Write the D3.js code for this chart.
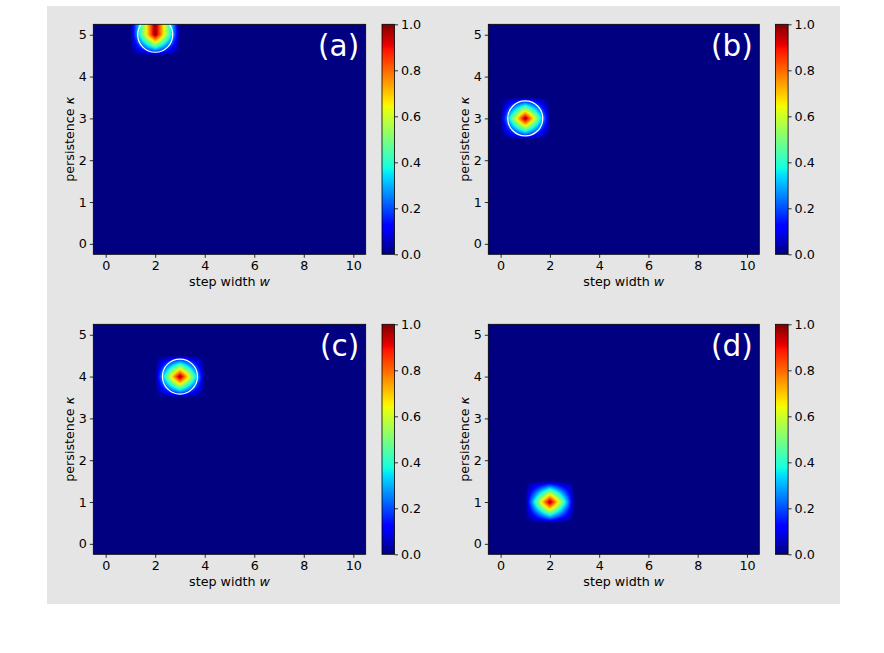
<!DOCTYPE html>
<html>
<head>
<meta charset="utf-8">
<script src="https://cdn.jsdelivr.net/npm/d3@7"></script>
<style>
  body { margin: 0; background: #fff; }
  svg { display: block; }
  text { font-family: "DejaVu Sans", sans-serif; }
</style>
</head>
<body>
<div id="my_dataviz"></div>
<script>
// grid of the heat maps
var stepWidth = [0, 1, 2, 3, 4, 5, 6, 7, 8, 9, 10];
var persistence = [0, 0.5, 1, 1.5, 2, 2.5, 3, 3.5, 4, 4.5, 5];

// every panel has one non-zero cell
var panelNames = ["(a)", "(b)", "(c)", "(d)"];
var peakStepWidth = [2, 1, 3, 2];
var peakPersistence = [5, 3, 4, 1];
var peakValue = [1.0, 1.0, 1.0, 1.0];

// white rings, panel (d) has none
var ringStepWidth = [2, 1, 3, null];
var ringPersistence = [5, 3, 4, null];

var xTickValues = [0, 2, 4, 6, 8, 10];
var yTickValues = [0, 1, 2, 3, 4, 5];
var colorTickValues = [0.0, 0.2, 0.4, 0.6, 0.8, 1.0];

// matplotlib "jet" knots
var jetRed = [[0, 0], [0.35, 0], [0.66, 1], [0.89, 1], [1, 0.5]];
var jetGreen = [[0, 0], [0.125, 0], [0.375, 1], [0.64, 1], [0.91, 0], [1, 0]];
var jetBlue = [[0, 0.5], [0.11, 1], [0.34, 1], [0.65, 0], [1, 0]];

function knotScale(k) {
    return d3.scaleLinear()
        .domain(k.map(function(d) { return d[0]; }))
        .range(k.map(function(d) { return d[1] * 255; }))
        .clamp(true);
}
var rS = knotScale(jetRed), gS = knotScale(jetGreen), bS = knotScale(jetBlue);
function jet(v) {
    return [Math.round(rS(v)), Math.round(gS(v)), Math.round(bS(v))];
}

// layout
var fontSize = 12.7;
var plotLeft = [93.3, 488.3],
    plotWidth = [272.4, 271],
    plotTop = [24.3, 324.3],
    plotHeight = 230,
    cbGap = 16.3,
    cbWidth = 12.5,
    tick = 3.5,
    ringRadius = 17.5;

var svg = d3.select("#my_dataviz")
    .append("svg")
    .attr("width", 884)
    .attr("height", 653);

svg.append("rect")
    .attr("x", 47).attr("y", 6)
    .attr("width", 793).attr("height", 598)
    .attr("fill", "#e5e5e5");

// colour bar gradient
var defs = svg.append("defs");
var grad = defs.append("linearGradient")
    .attr("id", "jetgrad")
    .attr("x1", 0).attr("y1", 1).attr("x2", 0).attr("y2", 0);
d3.range(0, 1.0001, 0.01).forEach(function(t) {
    var c = jet(t);
    grad.append("stop")
        .attr("offset", t)
        .attr("stop-color", "rgb(" + c.join(",") + ")");
});

function styleAxis(g) {
    g.select(".domain").remove();
    g.attr("font-family", null).attr("font-size", null);
    g.selectAll(".tick line").attr("stroke", "#000").attr("stroke-width", 0.8);
    g.selectAll(".tick text")
        .attr("fill", "#000")
        .style("font-size", fontSize + "px");
}

panelNames.forEach(function(name, p) {
    var col = p % 2, row = Math.floor(p / 2);
    var left = plotLeft[col], top = plotTop[row], width = plotWidth[col], height = plotHeight;

    var g = svg.append("g")
        .attr("transform", "translate(" + left + "," + top + ")");

    var x = d3.scaleLinear().domain([-0.5, 10.5]).range([0, width]);
    var y = d3.scaleLinear().domain([-0.25, 5.25]).range([height, 0]);

    // build the grid for this panel
    var grid = persistence.map(function(k) {
        return stepWidth.map(function(w) {
            return (w === peakStepWidth[p] && k === peakPersistence[p]) ? peakValue[p] : 0;
        });
    });

    // bilinear interpolation to the pixels
    var iScale = d3.scaleLinear().domain([stepWidth[0], stepWidth[stepWidth.length - 1]])
        .range([0, stepWidth.length - 1]).clamp(true);
    var jScale = d3.scaleLinear().domain([persistence[0], persistence[persistence.length - 1]])
        .range([0, persistence.length - 1]).clamp(true);

    var W = Math.round(width), H = Math.round(height);
    var canvas = document.createElement("canvas");
    canvas.width = W; canvas.height = H;
    var ctx = canvas.getContext("2d");
    var img = ctx.createImageData(W, H);
    for (var py = 0; py < H; py++) {
        var fj = jScale(y.invert((py + 0.5) * height / H));
        var j0 = Math.floor(fj), j1 = Math.min(j0 + 1, persistence.length - 1), tj = fj - j0;
        for (var px = 0; px < W; px++) {
            var fi = iScale(x.invert((px + 0.5) * width / W));
            var i0 = Math.floor(fi), i1 = Math.min(i0 + 1, stepWidth.length - 1), ti = fi - i0;
            var v = (1 - tj) * ((1 - ti) * grid[j0][i0] + ti * grid[j0][i1]) +
                    tj * ((1 - ti) * grid[j1][i0] + ti * grid[j1][i1]);
            var c = jet(v);
            var o = (py * W + px) * 4;
            img.data[o] = c[0]; img.data[o + 1] = c[1]; img.data[o + 2] = c[2]; img.data[o + 3] = 255;
        }
    }
    ctx.putImageData(img, 0, 0);

    g.append("image")
        .attr("x", 0).attr("y", 0)
        .attr("width", width).attr("height", height)
        .attr("preserveAspectRatio", "none")
        .attr("href", canvas.toDataURL());

    // ring
    defs.append("clipPath").attr("id", "clip" + p)
        .append("rect").attr("width", width).attr("height", height);
    if (ringStepWidth[p] !== null) {
        g.append("circle")
            .attr("clip-path", "url(#clip" + p + ")")
            .attr("cx", x(ringStepWidth[p]))
            .attr("cy", y(ringPersistence[p]))
            .attr("r", ringRadius)
            .attr("fill", "none")
            .attr("stroke", "#fff")
            .attr("stroke-width", 1.2);
    }

    // frame
    g.append("rect")
        .attr("width", width).attr("height", height)
        .attr("fill", "none")
        .attr("stroke", "#000")
        .attr("stroke-width", 0.8);

    // axes
    g.append("g")
        .attr("transform", "translate(0," + height + ")")
        .call(d3.axisBottom(x).tickValues(xTickValues).tickSize(tick).tickPadding(3)
            .tickFormat(d3.format("d")))
        .call(styleAxis);
    g.append("g")
        .call(d3.axisLeft(y).tickValues(yTickValues).tickSize(tick).tickPadding(3)
            .tickFormat(d3.format("d")))
        .call(styleAxis);

    // axis labels
    var xl = g.append("text")
        .attr("x", width / 2)
        .attr("y", height + 31.7)
        .attr("text-anchor", "middle")
        .style("font-size", fontSize + "px");
    xl.append("tspan").text("step width ");
    xl.append("tspan").attr("font-style", "italic").text("w");

    var yl = g.append("text")
        .attr("transform", "translate(-19.5," + (height / 2) + ") rotate(-90)")
        .attr("text-anchor", "middle")
        .style("font-size", fontSize + "px");
    yl.append("tspan").text("persistence ");
    yl.append("tspan").attr("font-style", "italic").text("κ");

    // panel name
    g.append("text")
        .attr("x", width - 6.5)
        .attr("y", 31.4)
        .attr("text-anchor", "end")
        .attr("fill", "#fff")
        .style("font-size", "29.5px")
        .text(name);

    // colour bar
    var cbx = width + cbGap;
    var cy = d3.scaleLinear().domain([0, 1]).range([height, 0]);
    var cb = g.append("g").attr("transform", "translate(" + cbx + ",0)");
    cb.append("rect")
        .attr("width", cbWidth).attr("height", height)
        .attr("fill", "url(#jetgrad)")
        .attr("stroke", "#000")
        .attr("stroke-width", 0.8);
    cb.append("g")
        .attr("transform", "translate(" + cbWidth + ",0)")
        .call(d3.axisRight(cy).tickValues(colorTickValues).tickSize(tick).tickPadding(3)
            .tickFormat(d3.format(".1f")))
        .call(styleAxis);
});
</script>
</body>
</html>
